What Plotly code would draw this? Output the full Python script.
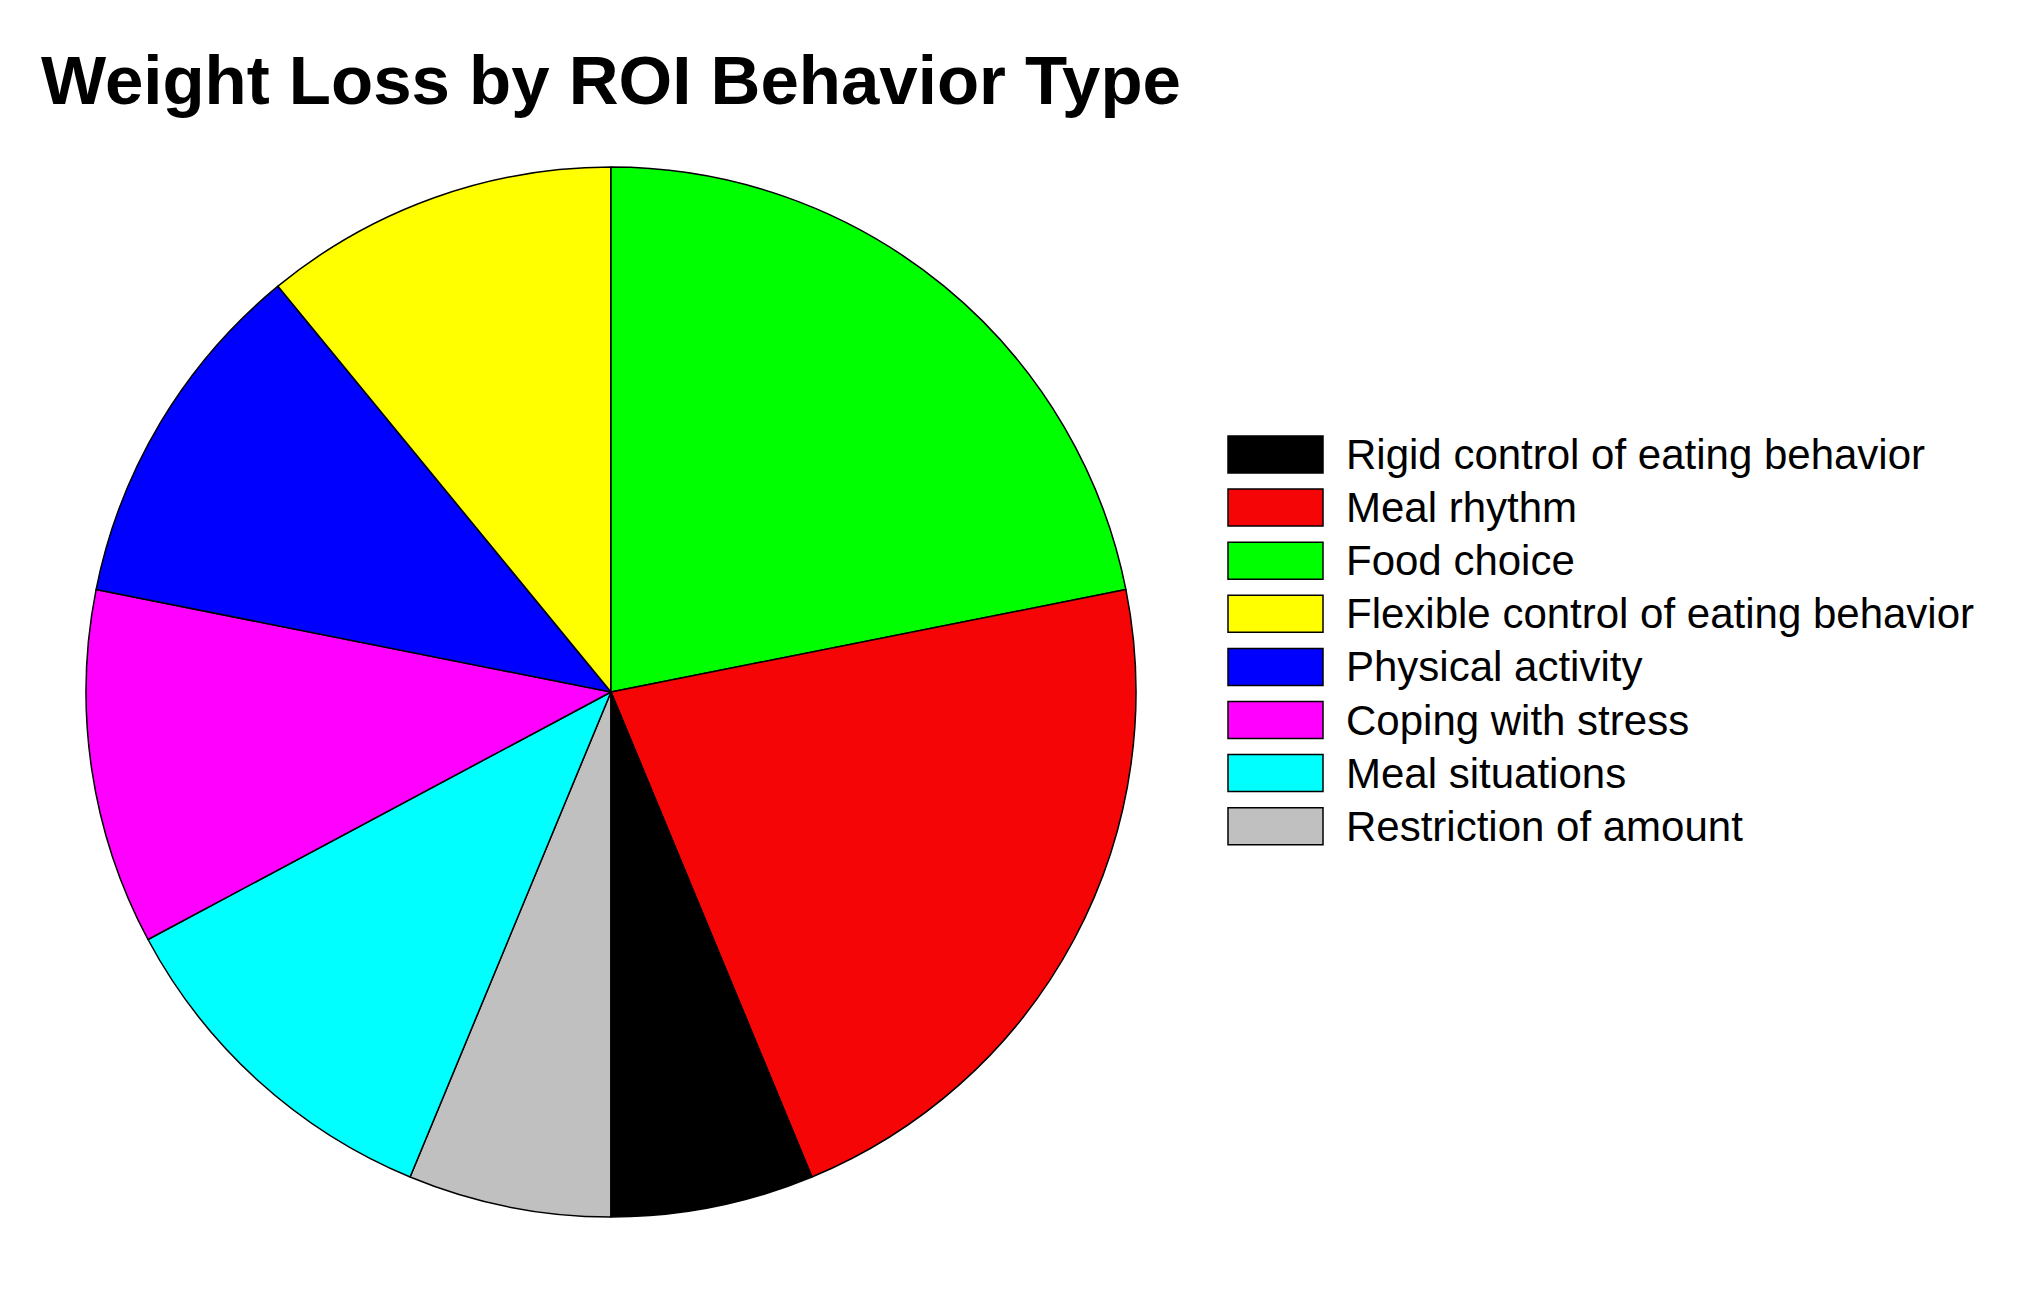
import plotly.graph_objects as go

# --- Data ---
labels = [
    "Rigid control of eating behavior",
    "Meal rhythm",
    "Food choice",
    "Flexible control of eating behavior",
    "Physical activity",
    "Coping with stress",
    "Meal situations",
    "Restriction of amount",
]
values = [4, 14, 14, 7, 7, 7, 7, 4]
colors = ["#000000", "#F50505", "#00FF00", "#FFFF00", "#0000FF", "#FF00FF", "#00FFFF", "#C0C0C0"]

title_text = "Weight Loss by ROI Behavior Type"

# --- Canvas / layout constants (pixels) ---
W, H = 2039, 1299
OFF = 8                              # page body margin of the html
cx, cy, r = 611 - OFF, 692 - OFF, 525  # pie centre and radius
leg_x0, leg_w, leg_h = 1228 - OFF, 95, 37  # legend swatch box
leg_top, leg_step = 436 - OFF, 53.1
leg_text_x = 1344 - OFF

fig = go.Figure()

# slices run counter-clockwise from 6 o'clock in the original; plotly's ccw mode
# offsets the start, so feed the reversed order clockwise instead
fig.add_trace(go.Pie(
    labels=labels[::-1],
    values=values[::-1],
    marker=dict(colors=colors[::-1], line=dict(color="black", width=1.5)),
    sort=False,
    direction="clockwise",
    rotation=180,
    textinfo="none",
    hoverinfo="label+value+percent",
    showlegend=False,
    domain=dict(x=[(cx - r) / W, (cx + r) / W],
                y=[(H - cy - r) / H, (H - cy + r) / H]),
))

# --- Legend (drawn by hand to get the wide swatches) ---
for i, (lab, col) in enumerate(zip(labels, colors)):
    top = leg_top + i * leg_step
    fig.add_shape(
        type="rect", xref="paper", yref="paper",
        x0=leg_x0 / W, x1=(leg_x0 + leg_w) / W,
        y0=1 - (top + leg_h) / H, y1=1 - top / H,
        fillcolor=col, line=dict(color="black", width=1.5),
    )
    fig.add_annotation(
        x=leg_text_x / W, y=1 - (top + leg_h / 2) / H,
        xref="paper", yref="paper", xanchor="left", yanchor="middle",
        text=lab, showarrow=False,
        font=dict(family="Liberation Sans, Arial, sans-serif", size=42, color="black"),
    )

fig.update_layout(
    width=W,
    height=H,
    title=dict(
        text=title_text,
        x=(41 - OFF) / W, xanchor="left", xref="container",
        y=1 - (80 - OFF) / H, yanchor="middle", yref="container",
        font=dict(family="Liberation Sans, Arial, sans-serif", size=69, color="black", weight="bold"),
    ),
    margin=dict(l=0, r=0, t=0, b=0),
    paper_bgcolor="white",
    plot_bgcolor="white",
    showlegend=False,
)

fig.write_html("out.html")
